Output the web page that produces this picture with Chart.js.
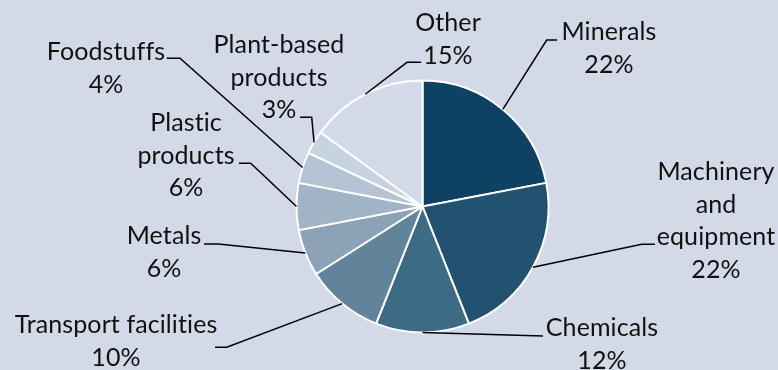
<!DOCTYPE html>
<html>
<head>
<meta charset="utf-8">
<script src="https://cdn.jsdelivr.net/npm/chart.js@4"></script>
<style>
  html, body { margin: 0; padding: 0; background: #d2d9e7; }
  #wrap { width: 778px; height: 370px; }
</style>
</head>
<body>
<div id="wrap"><canvas id="chart" width="778" height="370"></canvas></div>
<script>
// 품목별 구성비
const categories = [
  'Minerals', 'Machinery and equipment', 'Chemicals', 'Transport facilities',
  'Metals', 'Plastic products', 'Foodstuffs', 'Plant-based products', 'Other'
];
const shares = [22, 22, 12, 10, 6, 6, 4, 3, 15];

// 라벨 줄바꿈
const labelLines = [
  ['Minerals'],
  ['Machinery', 'and', 'equipment'],
  ['Chemicals'],
  ['Transport facilities'],
  ['Metals'],
  ['Plastic', 'products'],
  ['Foodstuffs'],
  ['Plant-based', 'products'],
  ['Other']
];

const sliceColors = [
  '#0e4262', '#21536e', '#3d6a85', '#62849b', '#8aa3b7',
  '#a0b4c6', '#b4c4d5', '#c8d3e1', '#d2d9e7'
];

// 라벨 위치: 텍스트 중심 x, 첫 줄 중심 y, 꺾임점, 끝점
const labelLayout = [
  { cx: 609, y: 32,  elbow: [546.7, 40],   end: [557, 40] },
  { cx: 716, y: 172, elbow: [641.7, 244.3], end: [655, 244.3] },
  { cx: 602, y: 328, elbow: null,          end: [543, 336] },
  { cx: 116, y: 325, elbow: [226.7, 347.3], end: [215, 347.3] },
  { cx: 164, y: 236, elbow: [218.3, 244],   end: [204, 244] },
  { cx: 186, y: 123, elbow: [250.7, 163.3], end: [239, 163.3] },
  { cx: 106, y: 52,  elbow: [180, 58.3],    end: [166.7, 58.3] },
  { cx: 279, y: 45,  elbow: [311.7, 117.3], end: [300, 117.3] },
  { cx: 448, y: 23,  elbow: [407, 62.3],    end: [421, 62.3] }
];

const LINE_H = 32.5;

const leaderLabels = {
  id: 'leaderLabels',
  afterDraw(chart) {
    const ctx = chart.ctx;
    const arcs = chart.getDatasetMeta(0).data;
    ctx.save();
    ctx.strokeStyle = '#000';
    ctx.lineWidth = 1.5;
    ctx.fillStyle = '#111';
    ctx.font = '25px Lato, "Noto Sans", sans-serif';
    ctx.letterSpacing = '0.1px'; // 'ti' 합자 방지
    ctx.textAlign = 'center';
    ctx.textBaseline = 'middle';
    arcs.forEach((arc, i) => {
      const lay = labelLayout[i];
      const mid = (arc.startAngle + arc.endAngle) / 2;
      const px = arc.x + Math.cos(mid) * arc.outerRadius;
      const py = arc.y + Math.sin(mid) * arc.outerRadius;
      ctx.beginPath();
      ctx.moveTo(px, py);
      if (lay.elbow) ctx.lineTo(lay.elbow[0], lay.elbow[1]);
      ctx.lineTo(lay.end[0], lay.end[1]);
      ctx.stroke();

      const lines = labelLines[i].concat([shares[i] + '%']);
      lines.forEach((t, k) => {
        ctx.fillText(t, lay.cx, lay.y + k * LINE_H);
      });
    });
    ctx.restore();
  }
};

new Chart(document.getElementById('chart'), {
  type: 'pie',
  data: {
    labels: categories,
    datasets: [{
      data: shares,
      backgroundColor: sliceColors,
      borderColor: '#ffffff',
      borderWidth: 2,
      hoverOffset: 0
    }]
  },
  options: {
    responsive: false,
    animation: false,
    radius: 126,
    layout: { padding: { left: 297, right: 230, top: 81, bottom: 38 } },
    plugins: {
      legend: { display: false },
      tooltip: { enabled: false }
    }
  },
  plugins: [leaderLabels]
});
</script>
</body>
</html>
